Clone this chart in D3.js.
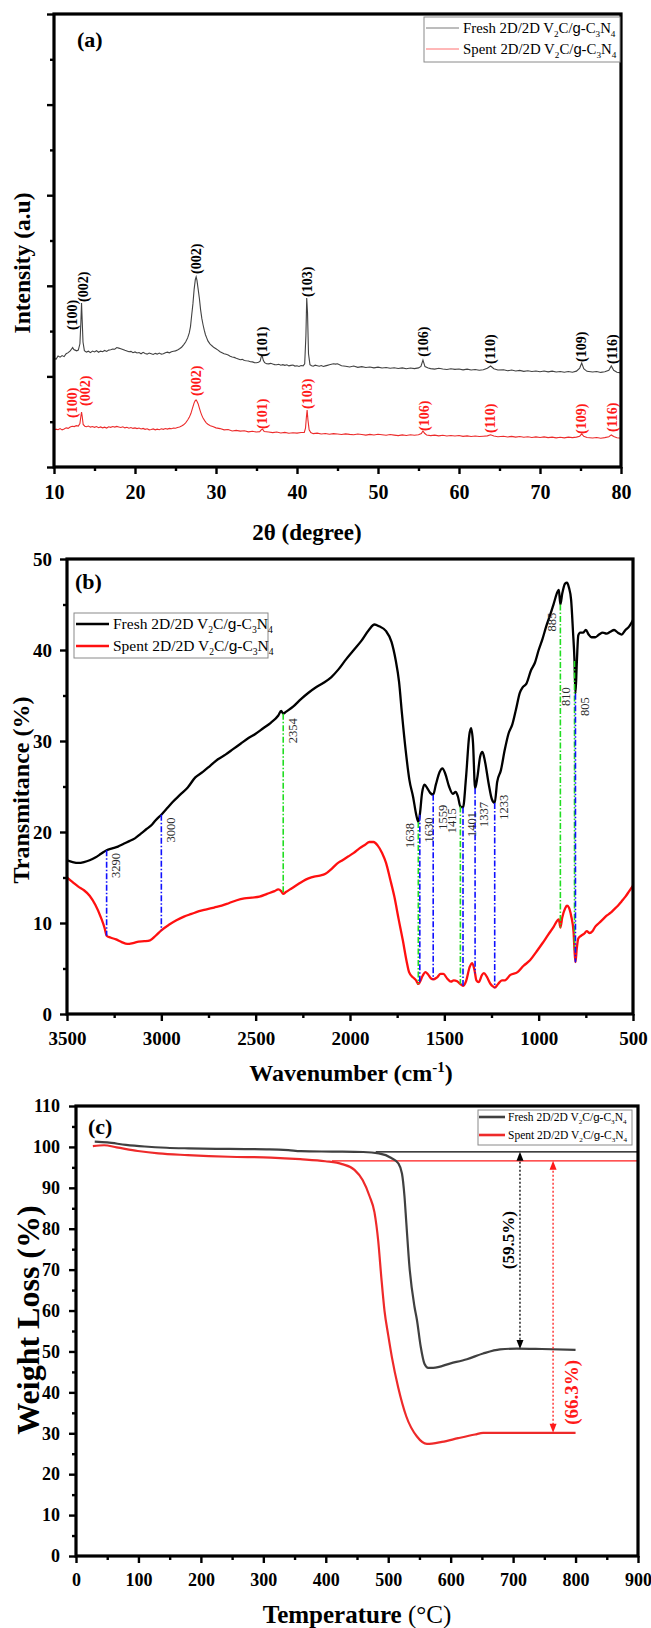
<!DOCTYPE html>
<html><head><meta charset="utf-8">
<script src="https://cdn.jsdelivr.net/npm/d3@7"></script>
<style>
body{margin:0;background:#fff}
svg{display:block}
</style></head><body>
<svg id="fig" width="651" height="1628"></svg>
<script>
// ---------------- (a) XRD ----------------
const xrdFresh = [[10.0,1203],[10.25,1190],[10.5,1225],[10.75,1212],[11.0,1230],[11.25,1218],[11.5,1250],[11.75,1262],[12.0,1281],[12.15,1300],[12.3,1318],[12.45,1296],[12.6,1290],[12.8,1282],[13.0,1290],[13.2,1360],[13.32,1600],[13.4,1810],[13.48,1620],[13.58,1380],[13.75,1285],[14.0,1268],[14.25,1278],[14.5,1262],[14.75,1280],[15.0,1270],[15.25,1284],[15.5,1266],[15.75,1279],[16.0,1272],[16.25,1286],[16.5,1275],[16.75,1290],[17.0,1294],[17.25,1302],[17.5,1300],[17.75,1318],[18.0,1312],[18.25,1306],[18.5,1298],[18.75,1288],[19.0,1281],[19.25,1272],[19.5,1276],[19.75,1262],[20.0,1270],[20.25,1258],[20.5,1264],[20.75,1250],[21.0,1266],[21.25,1252],[21.5,1246],[21.75,1258],[22.0,1250],[22.25,1242],[22.5,1254],[22.75,1246],[23.0,1258],[23.25,1246],[23.5,1250],[23.75,1262],[24.0,1268],[24.25,1260],[24.5,1272],[24.75,1278],[25.0,1282],[25.25,1292],[25.5,1305],[25.75,1322],[26.0,1348],[26.25,1380],[26.5,1425],[26.7,1480],[26.85,1550],[27.0,1678],[27.15,1800],[27.3,1960],[27.45,2070],[27.55,2098],[27.65,2060],[27.8,1960],[27.95,1860],[28.1,1735],[28.25,1640],[28.4,1570],[28.55,1510],[28.7,1460],[28.85,1425],[29.0,1392],[29.25,1360],[29.5,1338],[29.75,1318],[30.0,1305],[30.25,1290],[30.5,1272],[30.75,1262],[31.0,1250],[31.25,1244],[31.5,1236],[31.75,1222],[32.0,1214],[32.25,1210],[32.5,1200],[32.75,1192],[33.0,1184],[33.25,1188],[33.5,1176],[33.75,1172],[34.0,1170],[34.25,1162],[34.5,1160],[34.75,1152],[35.0,1150],[35.25,1156],[35.45,1168],[35.6,1220],[35.7,1228],[35.85,1175],[36.0,1152],[36.25,1140],[36.5,1138],[36.75,1144],[37.0,1136],[37.25,1130],[37.5,1128],[37.75,1134],[38.0,1124],[38.25,1130],[38.5,1122],[38.75,1128],[39.0,1116],[39.25,1122],[39.5,1126],[39.75,1114],[40.0,1118],[40.25,1110],[40.5,1120],[40.75,1116],[40.95,1140],[41.1,1450],[41.2,1866],[41.3,1700],[41.42,1250],[41.6,1130],[41.8,1118],[42.0,1112],[42.25,1124],[42.5,1118],[42.75,1112],[43.0,1120],[43.25,1110],[43.5,1116],[43.75,1122],[44.0,1128],[44.25,1134],[44.5,1140],[44.75,1136],[45.0,1140],[45.5,1118],[46.0,1112],[46.5,1104],[47.0,1114],[47.5,1100],[48.0,1108],[48.5,1098],[49.0,1104],[49.5,1094],[50.0,1102],[50.5,1092],[51.0,1098],[51.5,1090],[52.0,1096],[52.5,1088],[53.0,1094],[53.5,1084],[54.0,1092],[54.5,1086],[55.0,1094],[55.3,1110],[55.55,1181],[55.8,1108],[56.2,1092],[56.5,1086],[57.0,1080],[57.5,1090],[58.0,1082],[58.5,1076],[59.0,1084],[59.5,1078],[60.0,1082],[60.5,1072],[61.0,1080],[61.5,1070],[62.0,1076],[62.5,1068],[63.0,1074],[63.5,1090],[63.9,1115],[64.3,1084],[64.8,1070],[65.5,1074],[66.0,1062],[66.5,1070],[67.0,1060],[67.5,1066],[68.0,1056],[68.5,1062],[69.0,1054],[69.5,1060],[70.0,1052],[70.5,1060],[71.0,1050],[71.5,1058],[72.0,1048],[72.5,1054],[73.0,1046],[73.5,1054],[74.0,1046],[74.5,1058],[74.9,1092],[75.15,1148],[75.4,1084],[75.8,1056],[76.5,1048],[77.0,1054],[77.5,1044],[78.0,1052],[78.5,1068],[78.8,1115],[79.1,1068],[79.5,1046],[80.0,1038]];

const xrdSpent = [[10.0,408],[10.25,418],[10.5,412],[10.75,424],[11.0,410],[11.25,420],[11.5,432],[11.75,426],[12.0,442],[12.25,450],[12.5,446],[12.75,456],[13.0,452],[13.2,480],[13.32,560],[13.4,607],[13.48,560],[13.6,470],[13.8,450],[14.0,444],[14.25,452],[14.5,440],[14.75,446],[15.0,438],[15.25,446],[15.5,434],[15.75,442],[16.0,432],[16.25,440],[16.5,430],[16.75,444],[17.0,438],[17.25,446],[17.5,440],[17.75,448],[18.0,442],[18.25,436],[18.5,444],[18.75,432],[19.0,438],[19.25,428],[19.5,436],[19.75,426],[20.0,432],[20.25,424],[20.5,430],[20.75,420],[21.0,426],[21.25,416],[21.5,422],[21.75,410],[22.0,414],[22.25,420],[22.5,410],[22.75,418],[23.0,412],[23.25,422],[23.5,416],[23.75,424],[24.0,418],[24.25,426],[24.5,422],[24.75,430],[25.0,428],[25.25,436],[25.5,442],[25.75,452],[26.0,466],[26.25,488],[26.5,518],[26.7,548],[26.9,590],[27.1,650],[27.3,708],[27.45,735],[27.55,740],[27.65,725],[27.8,696],[27.95,650],[28.1,606],[28.25,570],[28.4,540],[28.6,512],[28.8,488],[29.0,472],[29.3,456],[29.6,446],[30.0,432],[30.5,424],[31.0,410],[31.5,414],[32.0,398],[32.5,404],[33.0,396],[33.5,400],[34.0,388],[34.5,394],[35.0,386],[35.4,390],[35.6,412],[35.75,418],[35.95,392],[36.5,386],[37.0,380],[37.5,386],[38.0,376],[38.5,382],[39.0,372],[39.5,378],[40.0,374],[40.5,380],[40.9,382],[41.05,430],[41.15,540],[41.25,629],[41.35,520],[41.5,410],[41.7,380],[42.0,368],[42.5,374],[43.0,364],[43.5,370],[44.0,362],[44.5,368],[45.0,364],[45.5,358],[46.0,366],[46.5,360],[47.0,356],[47.5,364],[48.0,358],[48.5,352],[49.0,360],[49.5,354],[50.0,362],[50.5,356],[51.0,350],[51.5,358],[52.0,352],[52.5,346],[53.0,354],[53.5,348],[54.0,356],[54.5,350],[55.0,356],[55.35,370],[55.55,398],[55.75,372],[56.0,354],[56.5,346],[57.0,352],[57.5,344],[58.0,350],[58.5,342],[59.0,348],[59.5,342],[60.0,348],[60.5,338],[61.0,344],[61.5,336],[62.0,342],[62.5,336],[63.0,340],[63.5,344],[63.9,356],[64.3,342],[64.8,334],[65.5,340],[66.0,332],[66.5,338],[67.0,330],[67.5,336],[68.0,328],[68.5,334],[69.0,326],[69.5,332],[70.0,326],[70.5,332],[71.0,324],[71.5,330],[72.0,322],[72.5,328],[73.0,322],[73.5,330],[74.0,324],[74.5,330],[74.9,340],[75.15,366],[75.4,338],[75.8,326],[76.5,320],[77.0,326],[77.5,318],[78.0,324],[78.5,334],[78.8,354],[79.1,336],[79.5,322],[80.0,318]];

// reflection labels: [hkl, 2θ, intensity at label foot]
const freshPeaks = [["(100)",12.2,1500],["(002)",13.65,1810],["(002)",27.6,2120],["(101)",35.7,1205],["(103)",41.3,1866],["(106)",55.6,1205],["(110)",63.9,1126],["(109)",75.1,1148],["(116)",78.9,1126]];
const spentPeaks = [["(100)",12.2,530],["(002)",13.8,662],["(002)",27.6,773],["(101)",35.7,408],["(103)",41.25,629],["(106)",55.65,386],["(110)",63.9,364],["(109)",75.1,353],["(116)",78.9,375]];

const xrdXMajor = [10,20,30,40,50,60,70,80];
const xrdXMinor = [15,25,35,45,55,65,75];
const xrdYMajor = [0,1000,2000,3000,4000,5000];
const xrdYMinor = [500,1500,2500,3500,4500];

// ---------------- (b) FTIR ----------------
const ftirFresh = [[3500,16.9],[3470,16.7],[3440,16.6],[3410,16.7],[3380,16.9],[3350,17.2],[3320,17.6],[3290,18.0],[3260,18.2],[3230,18.4],[3200,18.7],[3170,19.0],[3140,19.3],[3110,19.8],[3080,20.3],[3050,20.8],[3030,21.3],[3000,21.9],[2970,22.6],[2940,23.3],[2900,24.1],[2860,24.9],[2820,26.0],[2780,26.6],[2740,27.3],[2700,28.0],[2660,28.5],[2620,29.1],[2580,29.7],[2540,30.3],[2500,30.8],[2460,31.4],[2420,32.0],[2380,32.8],[2365,33.3],[2354,33.0],[2340,33.2],[2300,33.8],[2260,34.6],[2220,35.3],[2180,35.9],[2140,36.4],[2100,37.0],[2060,37.9],[2020,39.0],[1980,40.0],[1940,41.0],[1900,42.2],[1870,42.8],[1845,42.6],[1810,42.1],[1780,40.9],[1758,38.9],[1740,36.5],[1725,33.1],[1705,29.0],[1685,25.7],[1665,23.8],[1650,22.0],[1638,21.1],[1630,21.9],[1618,24.3],[1605,25.2],[1590,24.8],[1575,24.3],[1559,24.1],[1545,25.2],[1525,26.6],[1510,27.0],[1495,26.4],[1475,25.0],[1455,24.2],[1440,24.4],[1428,23.9],[1415,22.8],[1401,22.7],[1385,26.0],[1368,30.6],[1358,31.4],[1348,29.8],[1337,24.8],[1325,26.0],[1310,28.3],[1298,28.8],[1285,27.8],[1265,25.3],[1248,23.6],[1233,23.2],[1220,25.5],[1200,26.8],[1180,29.0],[1160,30.8],[1140,31.8],[1120,33.5],[1100,35.3],[1085,35.9],[1065,36.3],[1040,37.8],[1020,38.6],[1000,40.0],[980,41.2],[960,42.6],[940,43.8],[920,45.1],[900,46.4],[893,46.6],[885,45.0],[875,46.2],[860,47.3],[850,47.4],[840,46.9],[828,45.5],[818,42.0],[810,38.8],[805,35.2],[798,38.5],[790,41.6],[780,41.9],[765,41.9],[750,42.2],[735,41.7],[720,41.4],[700,41.4],[680,41.7],[660,41.9],[640,41.8],[620,42.0],[600,42.2],[580,41.9],[560,41.7],[540,42.2],[520,42.6],[500,43.3]];

const ftirSpent = [[3500,15.0],[3470,14.5],[3440,14.0],[3410,13.6],[3380,13.0],[3350,12.0],[3320,10.6],[3300,9.4],[3290,8.6],[3270,8.4],[3240,8.2],[3210,7.9],[3180,7.7],[3150,7.8],[3120,7.95],[3090,8.0],[3060,8.1],[3030,8.6],[3000,9.2],[2960,9.8],[2920,10.3],[2880,10.7],[2840,11.0],[2800,11.3],[2760,11.5],[2720,11.7],[2680,11.9],[2640,12.2],[2600,12.5],[2560,12.7],[2520,12.8],[2480,12.9],[2440,13.2],[2400,13.5],[2380,13.7],[2365,13.5],[2354,13.2],[2340,13.4],[2310,13.8],[2280,14.2],[2250,14.6],[2220,14.9],[2190,15.1],[2160,15.2],[2130,15.4],[2100,15.9],[2070,16.5],[2040,16.9],[2010,17.3],[1980,17.7],[1950,18.2],[1920,18.6],[1897,18.9],[1875,18.9],[1853,18.5],[1830,17.7],[1809,16.6],[1787,14.8],[1765,12.9],[1742,10.4],[1720,8.1],[1700,5.8],[1687,4.6],[1665,4.0],[1650,3.7],[1638,3.3],[1630,3.5],[1615,4.2],[1600,4.6],[1588,4.4],[1570,3.9],[1559,3.8],[1540,4.0],[1520,4.4],[1505,4.4],[1485,3.9],[1465,3.55],[1450,3.7],[1432,3.6],[1415,3.3],[1401,3.1],[1385,3.6],[1365,5.2],[1352,5.6],[1340,4.8],[1330,3.7],[1318,3.5],[1300,4.3],[1290,4.5],[1275,4.1],[1255,3.3],[1240,3.0],[1233,2.9],[1215,3.3],[1195,3.7],[1179,3.7],[1150,4.3],[1112,4.6],[1080,5.3],[1046,5.9],[1010,6.9],[979,7.8],[950,8.7],[920,9.6],[900,10.3],[893,10.4],[885,9.5],[875,10.6],[860,11.6],[850,11.9],[840,11.7],[828,10.8],[815,9.0],[810,7.0],[805,5.7],[798,7.2],[790,8.3],[775,8.6],[760,8.8],[745,9.1],[730,8.9],[715,9.1],[700,9.6],[680,10.0],[660,10.4],[640,10.8],[620,11.1],[600,11.5],[580,11.9],[560,12.4],[540,12.9],[520,13.5],[500,14.1]];

// band markers: wavenumber, group (0 = green, 1 = blue), label side, transmittance at label top
const bandWn    = [2354,1638,1415,885,810,3290,3000,1630,1559,1401,1337,1233,805];
const bandGroup = [0,0,0,0,0,1,1,1,1,1,1,1,1];
const bandSide  = [1,-1,-1,-1,-1,1,1,1,1,1,1,1,1];
const bandLabT  = [32.5,21.0,22.6,44.1,35.9,17.7,21.6,21.6,23.0,22.2,23.3,24.1,34.8];

const ftirXMajor = [3500,3000,2500,2000,1500,1000,500];
const ftirXMinor = [3250,2750,2250,1750,1250,750];
const ftirYMajor = [0,10,20,30,40,50];
const ftirYMinor = [5,15,25,35,45];

// ---------------- (c) TGA ----------------
const tgaFresh = [[30,101.3],[50,101.1],[80,100.5],[110,100.1],[145,99.8],[180,99.65],[245,99.5],[310,99.4],[340,99.2],[360,98.95],[410,98.85],[460,98.75],[485,98.4],[505,97.3],[516,96.0],[522,93.5],[526,88.0],[529,81.4],[534,70.7],[542,61.0],[546,57.7],[552,51.2],[558,47.0],[564,46.0],[572,46.0],[600,47.1],[626,48.1],[652,49.5],[679,50.5],[706,50.7],[746,50.6],[800,50.4]];
const tgaSpent = [[27,100.2],[45,100.4],[65,99.9],[99,99.0],[132,98.4],[179,98.0],[245,97.6],[312,97.4],[359,97.0],[399,96.5],[426,95.8],[446,94.4],[459,91.9],[470,88.0],[478,84.0],[484,77.0],[489,68.0],[494,60.0],[500,54.0],[506,48.5],[516,41.2],[529,34.1],[546,29.2],[562,27.4],[586,27.9],[612,28.8],[639,29.7],[652,30.1],[712,30.1],[800,30.1]];

const tgaLevels = [98.8, 96.6];          // initial plateau levels
const tgaLevelFrom = [480, 410];          // temperature where each level line starts
const tgaResidue = [50.6, 30.1];          // final residue
const tgaArrowT = [711, 764];             // temperature of the loss arrows
const tgaLoss = ["(59.5%)", "(66.3%)"];
const tgaLabelW = [77.2, 40.0];           // weight value at label centre

const tgaXMajor = d3.range(0, 901, 100);
const tgaXMinor = d3.range(50, 900, 100);
const tgaYMajor = d3.range(0, 111, 10);
const tgaYMinor = d3.range(5, 110, 10);

const seriesNames = ["Fresh 2D/2D V", "Spent 2D/2D V"];

// ---------------- drawing ----------------
const SERIF = "'Liberation Serif','Times New Roman',serif";
const SANS = "'Liberation Sans',Arial,sans-serif";
const svg = d3.select("#fig");

function drawAxes(p, x, y, o) {
  const g = svg.append("g");
  const bx = g.append("g").attr("transform", `translate(0,${p.b})`);
  bx.append("g").call(d3.axisBottom(x).tickValues(o.xMinor).tickSize(4).tickFormat(""));
  bx.append("g").call(d3.axisBottom(x).tickValues(o.xMajor).tickSize(7).tickPadding(o.xPad).tickFormat(d3.format("d")));
  const ly = g.append("g").attr("transform", `translate(${p.l},0)`);
  ly.append("g").call(d3.axisLeft(y).tickValues(o.yMinor).tickSize(4).tickFormat(""));
  ly.append("g").call(d3.axisLeft(y).tickValues(o.yMajor).tickSize(7).tickPadding(o.yPad).tickFormat(o.yLabels ? d3.format("d") : ""));
  g.selectAll(".domain").remove();
  g.selectAll(".tick line").attr("stroke", "#000").attr("stroke-width", 2.4);
  g.selectAll(".tick text").attr("fill", "#000").attr("font-family", SERIF)
    .attr("font-weight", "bold").attr("font-size", o.fs);
  svg.append("rect").attr("x", p.l).attr("y", p.t).attr("width", p.r - p.l).attr("height", p.b - p.t)
    .attr("fill", "none").attr("stroke", "#000").attr("stroke-width", 3.2);
}

function formulaText(sel, name, fs) {
  const sh = fs * 0.28;
  sel.append("tspan").text(name);
  sel.append("tspan").text("2").attr("font-size", fs * 0.62).attr("dy", sh);
  sel.append("tspan").text("C/").attr("dy", -sh);
  sel.append("tspan").text("g").attr("font-family", SANS);
  sel.append("tspan").text("-C");
  sel.append("tspan").text("3").attr("font-size", fs * 0.62).attr("dy", sh);
  sel.append("tspan").text("N").attr("dy", -sh);
  sel.append("tspan").text("4").attr("font-size", fs * 0.62).attr("dy", sh);
}

function legend(box, rows, colors, widths, fs) {
  const g = svg.append("g");
  g.append("rect").attr("x", box.x).attr("y", box.y).attr("width", box.w).attr("height", box.h)
    .attr("fill", "#fff").attr("stroke", "#8a8a8a").attr("stroke-width", 1);
  seriesNames.forEach((n, i) => {
    g.append("line").attr("x1", box.lx0).attr("x2", box.lx1).attr("y1", rows[i]).attr("y2", rows[i])
      .attr("stroke", colors[i]).attr("stroke-width", widths);
    const t = g.append("text").attr("x", box.tx).attr("y", rows[i] + fs * 0.33)
      .attr("font-family", SERIF).attr("font-size", fs).attr("fill", "#000");
    formulaText(t, n, fs);
  });
}

function title(x, y, txt, fs, rot) {
  return svg.append("text").attr("transform", `translate(${x},${y})${rot ? " rotate(-90)" : ""}`)
    .attr("text-anchor", "middle").attr("dy", "0.35em").attr("font-family", SERIF)
    .attr("font-weight", "bold").attr("font-size", fs).attr("fill", "#000").text(txt);
}

// ---- panel (a) ----
{
  const p = {l: 54, r: 621, t: 14, b: 467};
  const x = d3.scaleLinear().domain([10, 80]).range([p.l, p.r]);
  const y = d3.scaleLinear().domain([0, 5000]).range([p.b, p.t]);
  const line = d3.line().x(d => x(d[0])).y(d => y(d[1]));
  svg.append("path").datum(xrdFresh).attr("d", line).attr("fill", "none").attr("stroke", "#424242").attr("stroke-width", 1.1);
  svg.append("path").datum(xrdSpent).attr("d", line).attr("fill", "none").attr("stroke", "#ec2b2b").attr("stroke-width", 1.1);
  const lab = (data, col) => svg.append("g").selectAll("text").data(data).join("text")
    .attr("transform", d => `translate(${x(d[1])},${y(d[2]) - 1}) rotate(-90)`)
    .attr("dy", "0.35em").attr("font-family", SERIF).attr("font-weight", "bold")
    .attr("font-size", 14).attr("fill", col).text(d => d[0]);
  lab(freshPeaks, "#000");
  lab(spentPeaks, "#ff1a1a");
  drawAxes(p, x, y, {xMajor: xrdXMajor, xMinor: xrdXMinor, yMajor: xrdYMajor, yMinor: xrdYMinor, xPad: 11, yPad: 4, fs: 20, yLabels: false});
  legend({x: 424, y: 17, w: 196, h: 45, lx0: 426, lx1: 459, tx: 463}, [28, 49], ["#7a7a7a", "#ff7070"], 1, 14.8);
  svg.append("text").attr("x", 77).attr("y", 47).attr("font-family", SERIF).attr("font-weight", "bold").attr("font-size", 22).text("(a)");
  title(22, 263, "Intensity (a.u)", 23.5, true);
  title(307, 532, "2θ (degree)", 23, false);
}

// ---- panel (b) ----
{
  const p = {l: 67, r: 633, t: 559, b: 1014};
  const x = d3.scaleLinear().domain([3500, 500]).range([p.l, p.r]);
  const y = d3.scaleLinear().domain([0, 50]).range([p.b, p.t]);
  const line = d3.line().x(d => x(d[0])).y(d => y(d[1])).curve(d3.curveMonotoneX);
  const at = (data, wn) => {
    for (let i = 0; i < data.length - 1; i++) {
      const a = data[i], b = data[i + 1];
      if (wn <= a[0] && wn >= b[0]) return a[1] + (b[1] - a[1]) * (a[0] - wn) / (a[0] - b[0]);
    }
    return data[data.length - 1][1];
  };
  svg.append("path").datum(ftirFresh).attr("d", line).attr("fill", "none").attr("stroke", "#000").attr("stroke-width", 2.3);
  svg.append("path").datum(ftirSpent).attr("d", line).attr("fill", "none").attr("stroke", "#ff1010").attr("stroke-width", 2.3);
  const bandColor = ["#22dd22", "#1010ff"];
  const bands = bandWn.map((w, i) => ({w, g: bandGroup[i], s: bandSide[i], lt: bandLabT[i]}));
  const bg = svg.append("g");
  bg.selectAll("line").data(bands).join("line")
    .attr("x1", d => x(d.w)).attr("x2", d => x(d.w))
    .attr("y1", d => y(at(ftirFresh, d.w))).attr("y2", d => y(at(ftirSpent, d.w)))
    .attr("stroke", d => bandColor[d.g]).attr("stroke-width", 1.6)
    .attr("stroke-dasharray", "6,2,1.5,2");
  bg.selectAll("text").data(bands).join("text")
    .attr("transform", d => `translate(${x(d.w) + d.s * 9},${y(d.lt)}) rotate(-90)`)
    .attr("text-anchor", "end").attr("dy", "0.35em")
    .attr("font-family", SERIF).attr("font-size", 12.5).attr("fill", "#2a2a2a").text(d => d.w);
  drawAxes(p, x, y, {xMajor: ftirXMajor, xMinor: ftirXMinor, yMajor: ftirYMajor, yMinor: ftirYMinor, xPad: 11, yPad: 8, fs: 19, yLabels: true});
  legend({x: 74, y: 613, w: 194, h: 45, lx0: 76, lx1: 109, tx: 113}, [624, 646], ["#000", "#ff1010"], 2.5, 15.5);
  svg.append("text").attr("x", 75).attr("y", 589).attr("font-family", SERIF).attr("font-weight", "bold").attr("font-size", 22).text("(b)");
  title(21, 790, "Transmitance (%)", 24, true);
  const t = svg.append("text").attr("x", 351).attr("y", 1081).attr("text-anchor", "middle")
    .attr("font-family", SERIF).attr("font-weight", "bold").attr("font-size", 24);
  t.append("tspan").text("Wavenumber (cm");
  t.append("tspan").text("-1").attr("font-size", 15).attr("dy", -9);
  t.append("tspan").text(")").attr("dy", 9);
}

// ---- panel (c) ----
{
  const p = {l: 76, r: 638, t: 1106, b: 1556};
  const x = d3.scaleLinear().domain([0, 900]).range([p.l, p.r]);
  const y = d3.scaleLinear().domain([0, 110]).range([p.b, p.t]);
  const line = d3.line().x(d => x(d[0])).y(d => y(d[1])).curve(d3.curveMonotoneX);
  const cols = ["#000", "#ff1a1a"];
  tgaLevels.forEach((v, i) => {
    svg.append("line").attr("x1", x(tgaLevelFrom[i])).attr("x2", p.r).attr("y1", y(v)).attr("y2", y(v))
      .attr("stroke", cols[i]).attr("stroke-width", 1.2);
  });
  svg.append("path").datum(tgaFresh).attr("d", line).attr("fill", "none").attr("stroke", "#404040").attr("stroke-width", 2.2);
  svg.append("path").datum(tgaSpent).attr("d", line).attr("fill", "none").attr("stroke", "#ee2a2a").attr("stroke-width", 2.2);
  tgaArrowT.forEach((T, i) => {
    const xx = x(T), y0 = y(tgaLevels[i]), y1 = y(tgaResidue[i]);
    svg.append("line").attr("x1", xx).attr("x2", xx).attr("y1", y0 + 6).attr("y2", y1 - 6)
      .attr("stroke", cols[i]).attr("stroke-width", 1.3).attr("stroke-dasharray", "2,2");
    svg.append("path").attr("d", `M${xx},${y0} l-3.5,9 l7,0 Z`).attr("fill", cols[i]);
    svg.append("path").attr("d", `M${xx},${y1} l-3.5,-9 l7,0 Z`).attr("fill", cols[i]);
  });
  svg.append("text").attr("transform", `translate(${x(tgaArrowT[0]) - 12},${y(tgaLabelW[0])}) rotate(-90)`)
    .attr("text-anchor", "middle").attr("dy", "0.35em").attr("font-family", SERIF).attr("font-weight", "bold")
    .attr("font-size", 17).attr("fill", "#000").text(tgaLoss[0]);
  svg.append("text").attr("transform", `translate(${x(tgaArrowT[1]) + 18},${y(tgaLabelW[1])}) rotate(-90)`)
    .attr("text-anchor", "middle").attr("dy", "0.35em").attr("font-family", SERIF).attr("font-weight", "bold")
    .attr("font-size", 19).attr("fill", "#ff1a1a").text(tgaLoss[1]);
  drawAxes(p, x, y, {xMajor: tgaXMajor, xMinor: tgaXMinor, yMajor: tgaYMajor, yMinor: tgaYMinor, xPad: 10, yPad: 9, fs: 18, yLabels: true});
  legend({x: 478, y: 1110, w: 154, h: 35, lx0: 479, lx1: 505, tx: 508}, [1117, 1135], ["#404040", "#ee2a2a"], 2.6, 11.5);
  svg.append("text").attr("x", 88).attr("y", 1134).attr("font-family", SERIF).attr("font-weight", "bold").attr("font-size", 22).text("(c)");
  title(28, 1320, "Weight Loss (%)", 32, true);
  const t = svg.append("text").attr("x", 357).attr("y", 1623).attr("text-anchor", "middle")
    .attr("font-family", SERIF).attr("font-size", 25).attr("fill", "#000");
  t.append("tspan").text("Temperature").attr("font-weight", "bold");
  t.append("tspan").text(" (°C)");
}
</script>
</body></html>
